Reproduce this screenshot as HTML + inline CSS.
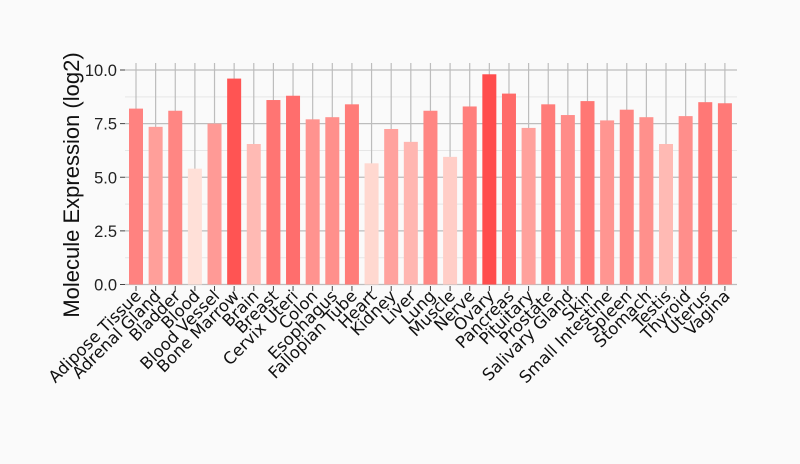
<!DOCTYPE html>
<html><head><meta charset="utf-8"><style>
html,body{margin:0;padding:0;background:#fafafa;}
svg{display:block;}
text{font-family:"DejaVu Sans","Liberation Sans",sans-serif;}
</style></head><body>
<svg id="c" width="800" height="464" xmlns="http://www.w3.org/2000/svg">
<rect width="800" height="464" fill="#fafafa"/>
<g id="grid"></g>
<g id="bars"></g>
<g id="ax"></g>
<text x="0" y="0" transform="translate(79,185) rotate(-90)" text-anchor="middle" font-size="22" style="font-family:'Liberation Sans',sans-serif" fill="#111">Molecule Expression (log2)</text>
</svg>
<script>
var names=["Adipose Tissue","Adrenal Gland","Bladder","Blood","Blood Vessel","Bone Marrow","Brain","Breast","Cervix Uteri","Colon","Esophagus","Fallopian Tube","Heart","Kidney","Liver","Lung","Muscle","Nerve","Ovary","Pancreas","Pituitary","Prostate","Salivary Gland","Skin","Small Intestine","Spleen","Stomach","Testis","Thyroid","Uterus","Vagina"];
var vals=[8.2,7.35,8.1,5.4,7.5,9.6,6.55,8.6,8.8,7.7,7.8,8.4,5.65,7.25,6.65,8.1,5.95,8.3,9.8,8.9,7.3,8.4,7.9,8.55,7.65,8.15,7.8,6.55,7.85,8.5,8.45];
var NS="http://www.w3.org/2000/svg";
function el(p,t,a,txt){var e=document.createElementNS(NS,t);for(var k in a)e.setAttribute(k,a[k]);if(txt)e.textContent=txt;p.appendChild(e);return e;}
var g=document.getElementById("grid"),b=document.getElementById("bars"),ax=document.getElementById("ax");
function Y(v){return 284.5-21.45*v;}
function X(i){return 136+i*19.63;}
for(var v=1.25;v<10.5;v+=2.5)el(g,"line",{x1:125,x2:737,y1:Y(v),y2:Y(v),stroke:"#e6e6e6","stroke-width":1});
for(var v=0;v<=10;v+=2.5){el(g,"line",{x1:125,x2:737,y1:Y(v),y2:Y(v),stroke:"#bdbdbd","stroke-width":1.2});
el(ax,"line",{x1:120,x2:125,y1:Y(v),y2:Y(v),stroke:"#444"});
el(ax,"text",{x:117,y:Y(v)+6,"text-anchor":"end","font-size":16.5,fill:"#222",style:"font-family:'Liberation Sans',sans-serif"},v.toFixed(1));}
for(var i=0;i<31;i++){var x=X(i);
el(g,"line",{x1:x,x2:x,y1:63,y2:285,stroke:"#bdbdbd","stroke-width":1.2});
var t=(vals[i]-5.4)/(9.8-5.4);t=Math.max(0,Math.min(1,t));
var G=Math.round(224-147*t),B=Math.round(216-139*t);
el(b,"rect",{x:x-7,y:Y(vals[i]),width:14,height:284.5-Y(vals[i]),fill:"rgb(255,"+G+","+B+")"});
el(ax,"line",{x1:x,x2:x,y1:286,y2:291,stroke:"#444"});
el(ax,"text",{x:0,y:0,transform:"translate("+(x+6)+",297) rotate(-45)","text-anchor":"end","font-size":16.5,fill:"#111"},names[i]);}
</script>
</body></html>
